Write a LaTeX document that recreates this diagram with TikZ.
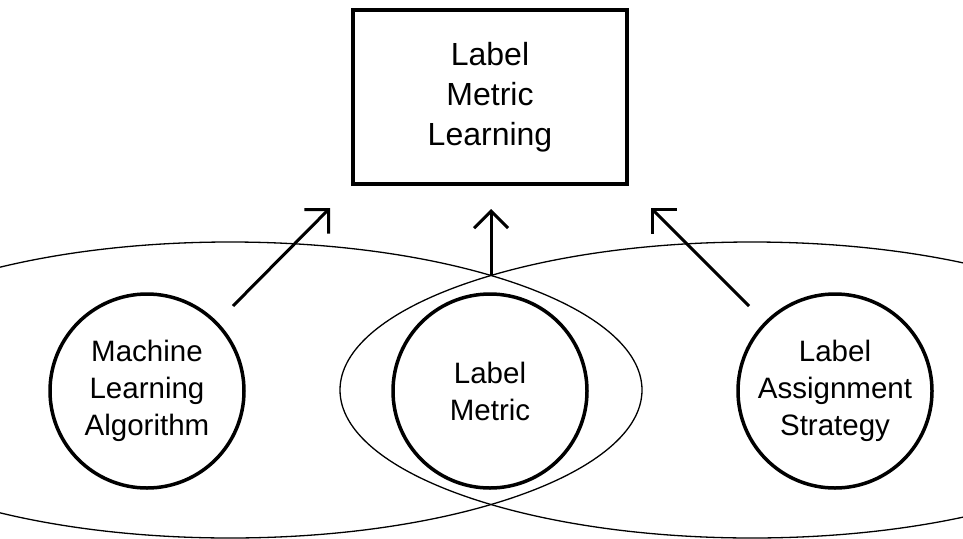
\documentclass[tikz,border=0pt]{standalone}
\usepackage{fontspec}
\setmainfont{Liberation Sans}
\usetikzlibrary{arrows.meta}

\begin{document}
\begin{tikzpicture}[
    x=1pt, y=-1pt,
    >={Straight Barb[length=17pt, width=34pt]},
    topic/.style={circle, draw, line width=3.5pt, minimum size=194pt, inner sep=0pt, align=center, font=\fontsize{29.5}{37}\selectfont},
    goal/.style={rectangle, draw, line width=4pt, minimum width=274pt, minimum height=174pt, align=center, font=\fontsize{32}{40}\selectfont},
    feed/.style={->, line width=3pt},
    field/.style={line width=1.3pt}
]

% --- Rahmen ---
\useasboundingbox (0,0) rectangle (963,538);
\clip (0,0) rectangle (963,538);

% --- Die zwei grossen Ellipsen ---
\draw[field] (230,390) ellipse [x radius=412pt, y radius=148pt];
\draw[field] (752,390) ellipse [x radius=412pt, y radius=148pt];

% --- Knoten ---
\node[goal] (lml) at (490,97) {Label\\Metric\\Learning};
\node[topic] (mla) at (147,391) {Machine\\Learning\\Algorithm};
\node[topic] (lm) at (490,391) {Label\\Metric};
\node[topic] (las) at (835,391) {Label\\Assignment\\Strategy};

% --- Pfeilenden ---
\coordinate (mlaTail) at (233,306);
\coordinate (mlaHead) at (330,208);
\coordinate (lmTail) at (491,276);
\coordinate (lmHead) at (491,209);
\coordinate (lasTail) at (749,306);
\coordinate (lasHead) at (651,208);

% --- Pfeile ---
\draw[feed] (mlaTail) -- (mlaHead);
\draw[feed] (lmTail) -- (lmHead);
\draw[feed] (lasTail) -- (lasHead);

\end{tikzpicture}
\end{document}
